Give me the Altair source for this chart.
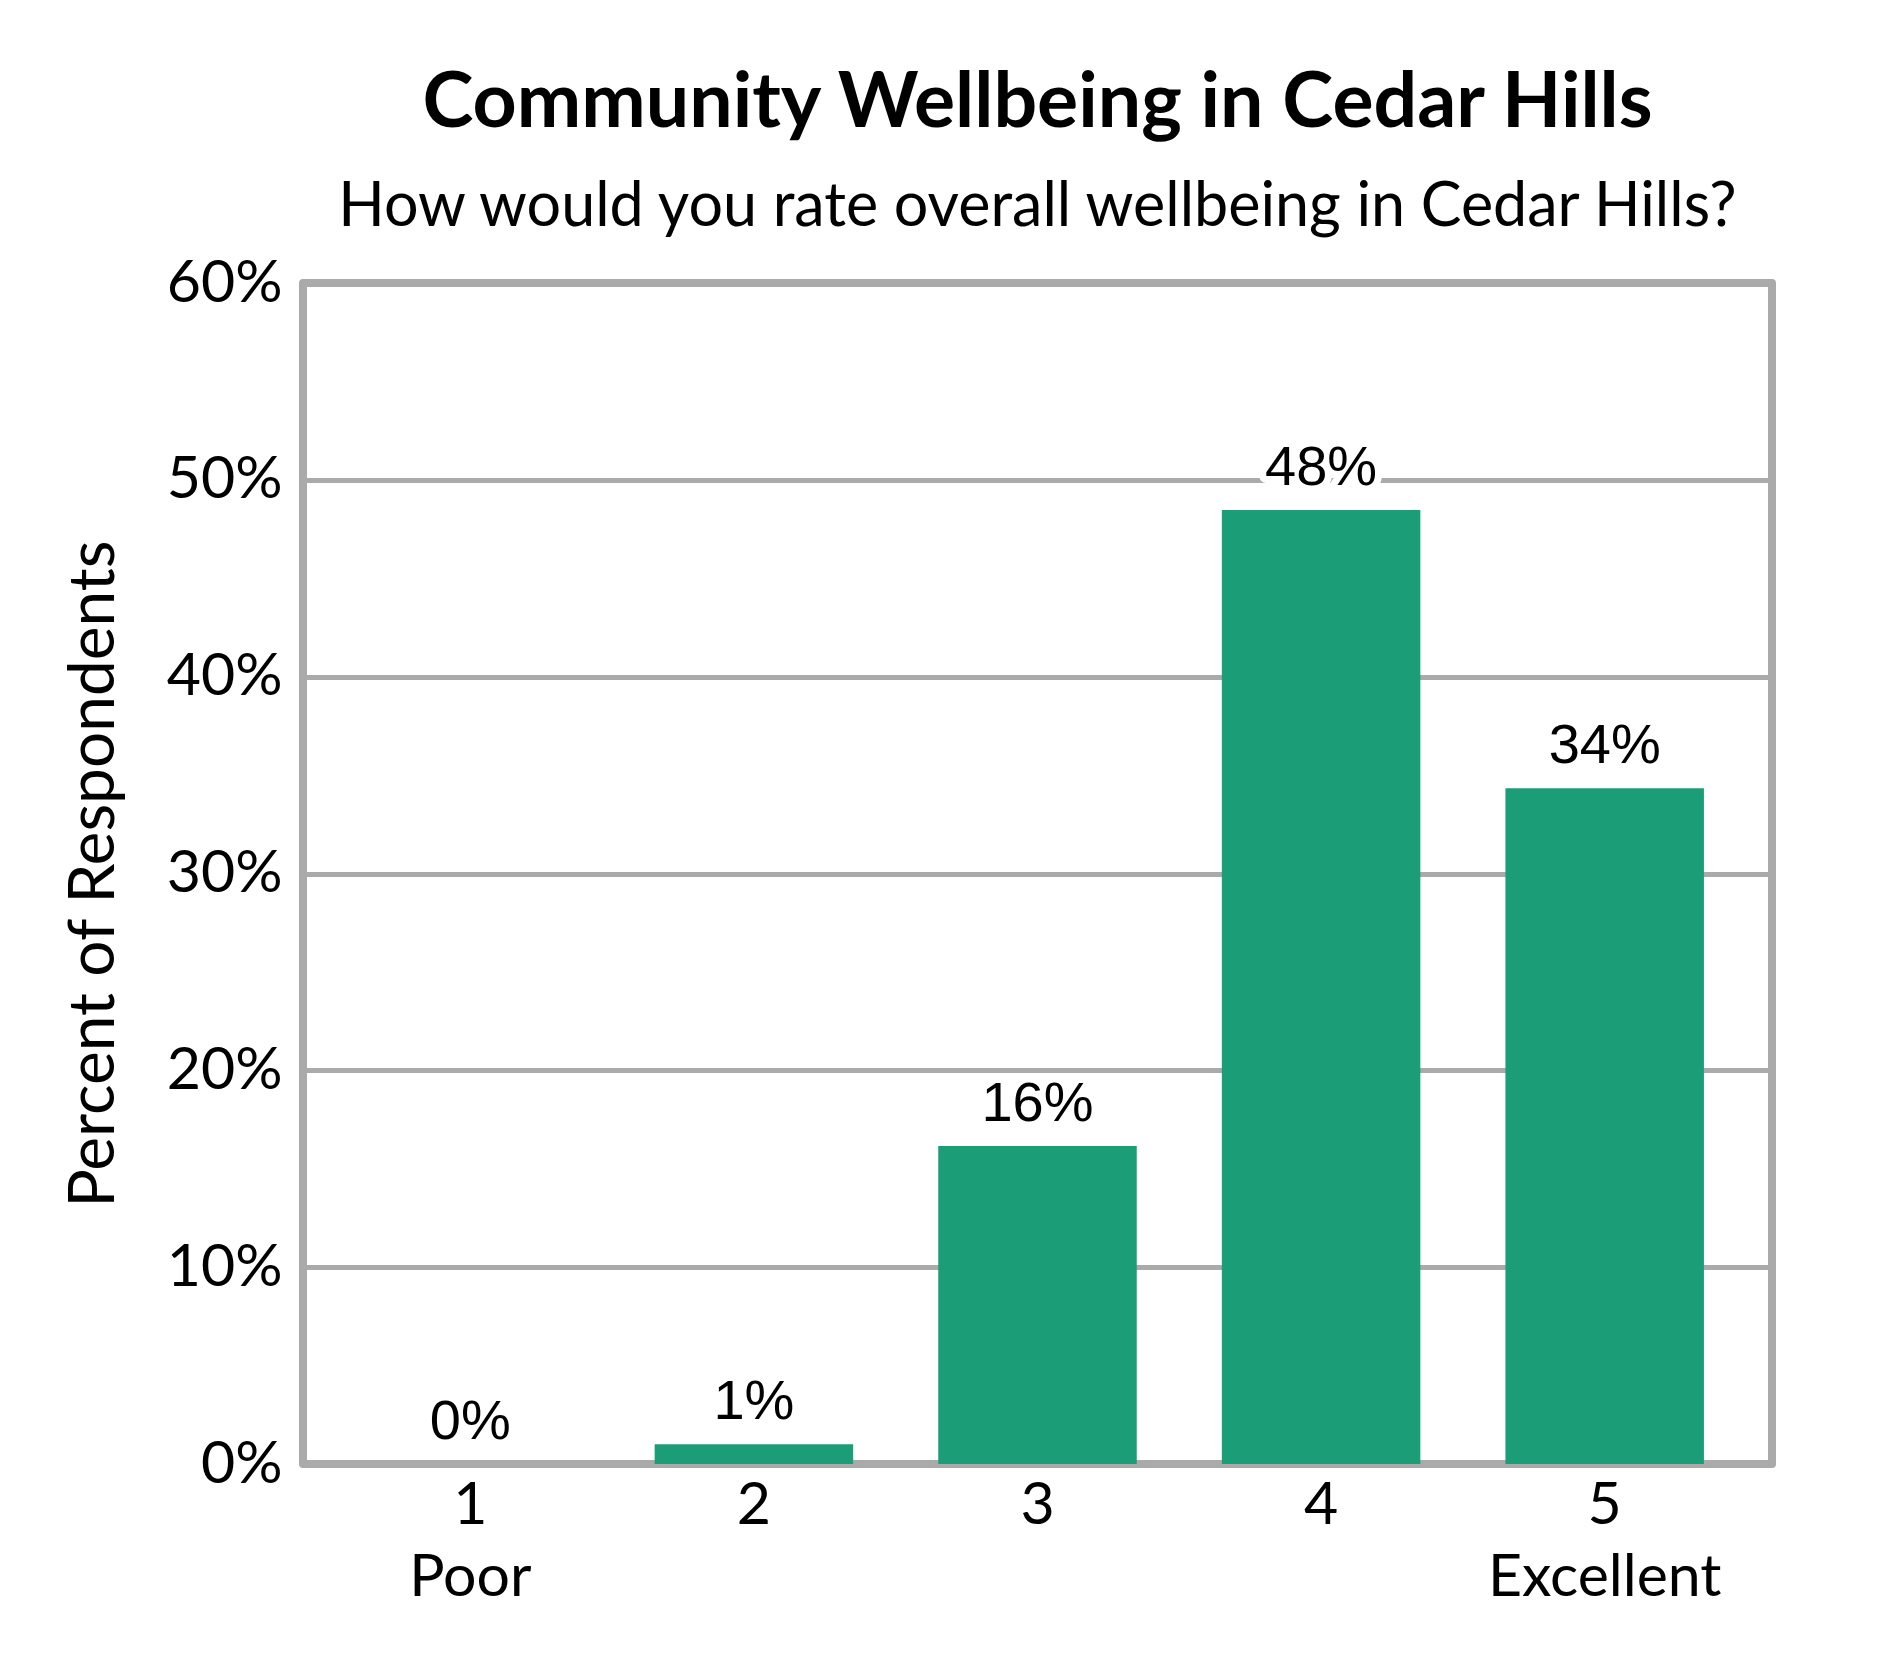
import altair as alt
import pandas as pd

# survey answers, rating 1 (Poor) .. 5 (Excellent)
ratings = ["1", "2", "3", "4", "5"]
anchor_words = ["Poor", "", "", "", "Excellent"]
percents = [0.0, 1.0, 16.15, 48.47, 34.33]
value_labels = ["0%", "1%", "16%", "48%", "34%"]
y_ticks = [0, 10, 20, 30, 40, 50, 60]

df = pd.DataFrame({"rating": ratings, "pct": percents, "label": value_labels})

# two-line tick labels where a rating has an anchor word
label_expr = "".join(
    f"datum.value == '{r}' ? ['{r}', '{w}'] : " for r, w in zip(ratings, anchor_words) if w
) + "datum.label"

GREEN = "#1b9e77"
GREY = "#aaaaaa"
UI_FONT = "Lato"
NUM_FONT = "Liberation Sans"

x_enc = alt.X(
    "rating:N",
    sort=ratings,
    title=None,
    scale=alt.Scale(paddingInner=0.3, paddingOuter=0.24),
    axis=alt.Axis(
        labelAngle=0,
        labelExpr=label_expr,
        labelFont=UI_FONT,
        labelFontSize=59,
        labelColor="black",
        labelLineHeight=72,
        labelPadding=12,
        labelLimit=500,
        ticks=False,
        domain=False,
        grid=False,
    ),
)

y_enc = alt.Y(
    "pct:Q",
    scale=alt.Scale(domain=[0, 60], nice=False),
    title="Percent of Respondents",
    axis=alt.Axis(
        values=y_ticks,
        labelExpr="datum.value + '%'",
        labelFont=UI_FONT,
        labelFontSize=59,
        labelColor="black",
        labelPadding=21,
        titleFont=UI_FONT,
        titleFontSize=64,
        titleFontWeight="normal",
        titleColor="black",
        titlePadding=40,
        ticks=False,
        domain=False,
        grid=True,
        gridColor=GREY,
        gridWidth=5,
    ),
)

bars = alt.Chart(df).mark_bar(color=GREEN).encode(x=x_enc, y=y_enc)

halo = alt.Chart(df).mark_text(
    font=NUM_FONT, fontSize=56, baseline="alphabetic", dy=-25,
    stroke="white", strokeWidth=14, strokeJoin="round", color="white",
).encode(x=alt.X("rating:N", sort=ratings), y="pct:Q", text="label:N")

labels = alt.Chart(df).mark_text(
    font=NUM_FONT, fontSize=56, baseline="alphabetic", dy=-25, color="black",
).encode(x=alt.X("rating:N", sort=ratings), y="pct:Q", text="label:N")

chart = alt.layer(bars, halo, labels).properties(
    width=1469,
    height=1181,
    autosize=alt.AutoSizeParams(type="none"),
    padding={"left": 295, "top": 275, "right": 110, "bottom": 200},
    view=alt.ViewBackground(stroke=GREY, strokeWidth=8, strokeJoin="round"),
    title=alt.TitleParams(
        text="Community Wellbeing in Cedar Hills",
        subtitle="How would you rate overall wellbeing in Cedar Hills?",
        font=UI_FONT,
        fontSize=77,
        fontWeight="bold",
        color="black",
        subtitleFont=UI_FONT,
        subtitleFontSize=61,
        subtitleColor="black",
        subtitlePadding=35,
        anchor="middle",
        offset=15,
    ),
).configure(background="white")

chart.save("out.html", embed_options={"renderer": "svg", "actions": False})
